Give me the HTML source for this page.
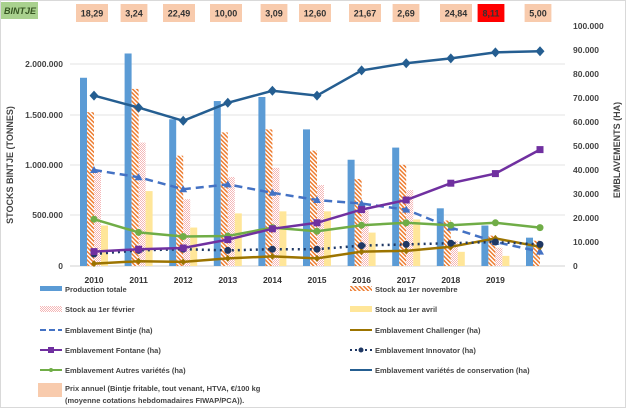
<!DOCTYPE html>
<html><head><meta charset="utf-8"><style>
body{margin:0;background:#fff}
svg{display:block;font-family:"Liberation Sans",sans-serif}
</style></head><body>
<svg width="626" height="408" viewBox="0 0 626 408" xmlns="http://www.w3.org/2000/svg">
<defs>
<pattern id="hatch" width="3" height="3" patternUnits="userSpaceOnUse" patternTransform="rotate(-45)">
<rect width="3" height="3" fill="#fff"/><rect width="1.5" height="3" fill="#ED7D31"/></pattern>
<pattern id="dots" width="2" height="2" patternUnits="userSpaceOnUse">
<rect width="2" height="2" fill="#fff"/><rect width="1" height="1" fill="#F4B6B6"/><rect x="1" y="1" width="1" height="1" fill="#F4B6B6"/></pattern>
</defs>
<rect x="0.5" y="0.5" width="625" height="407" fill="#fff" stroke="#d9d9d9"/>
<rect x="1" y="2" width="37" height="17" fill="#A9D18E"/>
<text x="4" y="14" font-size="9" font-weight="bold" font-style="italic" fill="#375623">BINTJE</text>
<g font-size="9" font-weight="bold" fill="#333" text-anchor="middle" id="prices"></g>
<g stroke="#e3e3e3" stroke-width="1">
<line x1="70" x2="565" y1="64" y2="64"/><line x1="70" x2="565" y1="115" y2="115"/>
<line x1="70" x2="565" y1="165" y2="165"/><line x1="70" x2="565" y1="215" y2="215"/>
</g>
<line x1="70" x2="565" y1="266" y2="266" stroke="#d0d0d0"/>
<g font-size="8.5" font-weight="bold" fill="#444" text-anchor="end">
<text x="63" y="67">2.000.000</text><text x="63" y="118">1.500.000</text>
<text x="63" y="168">1.000.000</text><text x="63" y="218">500.000</text><text x="63" y="269">0</text>
</g>
<g font-size="8.5" font-weight="bold" fill="#444" text-anchor="start" id="raxis"></g>
<text transform="translate(13,165) rotate(-90)" font-size="9" font-weight="bold" fill="#444" text-anchor="middle">STOCKS  BINTJE (TONNES)</text>
<text transform="translate(620,150) rotate(-90)" font-size="9" font-weight="bold" fill="#444" text-anchor="middle">EMBLAVEMENTS (HA)</text>
<g id="bars"></g>
<g id="lines"></g>
<g font-size="8.5" font-weight="bold" fill="#333" text-anchor="middle" id="years"></g>
<g font-size="7.5" font-weight="bold" fill="#444">
<rect x="40" y="286" width="22" height="5" fill="#5B9BD5"/><text x="65" y="292">Production totale</text>
<rect x="350" y="286" width="22" height="5" fill="url(#hatch)"/><text x="375" y="292">Stock au 1er novembre</text>
<rect x="40" y="306" width="22" height="6" fill="url(#dots)"/><text x="65" y="312">Stock au 1er février</text>
<rect x="350" y="306" width="22" height="6" fill="#FFE699"/><text x="375" y="312">Stock au 1er avril</text>
<line x1="40" x2="62" y1="330" y2="330" stroke="#4472C4" stroke-width="2" stroke-dasharray="6,3"/><text x="65" y="333">Emblavement Bintje (ha)</text>
<line x1="350" x2="372" y1="330" y2="330" stroke="#9C7400" stroke-width="2"/><text x="375" y="333">Emblavement Challenger (ha)</text>
<line x1="40" x2="62" y1="350" y2="350" stroke="#7030A0" stroke-width="2"/><rect x="48" y="347" width="6" height="6" fill="#7030A0"/><text x="65" y="353">Emblavement Fontane (ha)</text>
<line x1="350" x2="372" y1="350" y2="350" stroke="#1F3864" stroke-width="2" stroke-dasharray="2,3"/><circle cx="361" cy="350" r="2.5" fill="#1F3864"/><text x="375" y="353">Emblavement Innovator (ha)</text>
<line x1="40" x2="62" y1="370" y2="370" stroke="#70AD47" stroke-width="2"/><circle cx="51" cy="370" r="2" fill="#70AD47"/><text x="65" y="373">Emblavement Autres variétés (ha)</text>
<line x1="350" x2="372" y1="370" y2="370" stroke="#255E91" stroke-width="2"/><text x="375" y="373">Emblavement variétés de conservation (ha)</text>
<rect x="38" y="383" width="24" height="14" fill="#F8CBAD"/>
<text x="65" y="391">Prix annuel (Bintje fritable, tout venant, HTVA, €/100 kg</text>
<text x="65" y="403">(moyenne cotations hebdomadaires FIWAP/PCA)).</text>
</g>
<script>
var ns="http://www.w3.org/2000/svg";
function el(p,t,a,txt){var e=document.createElementNS(ns,t);for(var k in a)e.setAttribute(k,a[k]);if(txt)e.textContent=txt;document.getElementById(p).appendChild(e);return e;}
var cx=function(i){return 94+44.6*i;};
var pr=["18,29","3,24","22,49","10,00","3,09","12,60","21,67","2,69","24,84","8,11","5,00"];
var pc=[92,134,179,226,274,315,365,406,456,491,538];
pr.forEach(function(p,i){var w=p.length*5.2+6;el("prices","rect",{x:pc[i]-w/2,y:4,width:w,height:18,fill:i==9?"#FF0000":"#F8CBAD"});el("prices","text",{x:pc[i],y:16.5},p);});
for(var k=0;k<=10;k++){el("raxis","text",{x:573,y:269-24*k},k==0?"0":(k*10)+".000");}
for(var i=0;i<10;i++)el("years","text",{x:cx(i),y:283},String(2010+i));
var Y=function(v){return 266-v*50.6/500;};
var prod=[1860,2100,1450,1630,1670,1350,1050,1170,570,400,280],
nov=[1520,1750,1090,1320,1350,1140,860,1000,450,300,250],
feb=[950,1220,660,880,970,800,550,750,250,180,0],
apr=[400,740,380,520,540,540,330,460,140,100,0];
[[prod,-14,"#5B9BD5"],[nov,-7,"url(#hatch)"],[feb,0,"url(#dots)"],[apr,7,"#FFE699"]].forEach(function(s){
s[0].forEach(function(v,i){if(v>0)el("bars","rect",{x:cx(i)+s[1],y:Y(v),width:7,height:266-Y(v),fill:s[2]});});});
var H=function(v){return 266-v*2.4;};
function line(d,col,w,dash,mk){var pts=d.map(function(v,i){return cx(i)+","+H(v);}).join(" ");
var a={points:pts,fill:"none",stroke:col,"stroke-width":w};if(dash)a["stroke-dasharray"]=dash;el("lines","polyline",a);
d.forEach(function(v,i){var x=cx(i),y=H(v);
if(mk=="c")el("lines","circle",{cx:x,cy:y,r:3.5,fill:col});
else if(mk=="s")el("lines","rect",{x:x-3.5,y:y-3.5,width:7,height:7,fill:col});
else if(mk=="d")el("lines","polygon",{points:x+","+(y-5)+" "+(x+4.5)+","+y+" "+x+","+(y+5)+" "+(x-4.5)+","+y,fill:col});
else if(mk=="dd")el("lines","polygon",{points:x+","+(y-3.5)+" "+(x+3)+","+y+" "+x+","+(y+3.5)+" "+(x-3)+","+y,fill:col});
else if(mk=="t")el("lines","polygon",{points:x+","+(y-4)+" "+(x+4)+","+(y+3)+" "+(x-4)+","+(y+3),fill:col});});}
line([40,37,32,34,30.5,27.5,26,23.5,16,10,6],"#4472C4",2.5,"8,5","t");
line([1,2,1.7,3.2,4,3.2,6,6.3,8,11.5,8],"#9C7400",2.5,null,"dd");
line([5,6.5,7,6.5,7,7,8.5,9,9.5,10,9],"#1F3864",2.5,"2,4","c");
line([19.5,14,12.3,12.5,16,14.5,17,18,17,18,16],"#70AD47",2.5,null,"c");
line([6,7,7.5,11,15.5,18,23.5,27.5,34.5,38.5,48.5],"#7030A0",2.5,null,"s");
line([71,66,60.5,68,73,71,81.5,84.5,86.5,89,89.5],"#255E91",2.5,null,"d");
</script>
</svg>
</body></html>
